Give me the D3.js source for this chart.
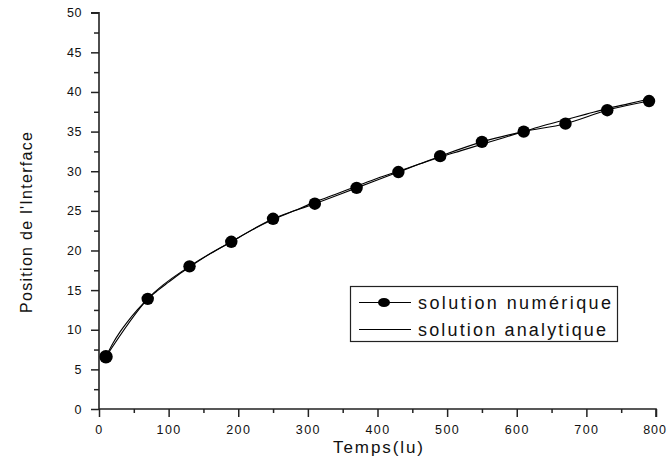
<!DOCTYPE html>
<html>
<head>
<meta charset="utf-8">
<script src="https://cdn.jsdelivr.net/npm/d3@7/dist/d3.min.js"></script>
<style>
  html, body { margin: 0; padding: 0; background: #fff; }
  svg { display: block; }
  text { font-family: "Liberation Sans", Arial, sans-serif; fill: #111; }
</style>
</head>
<body>
<svg id="chart" width="667" height="456"></svg>
<script>
// ---- data ----
const numTime = [10, 70, 130, 190, 250, 310, 370, 430, 490, 550, 610, 670, 730, 790];
const numPos  = [6.6, 13.9, 18.0, 21.1, 24.0, 25.9, 27.9, 29.9, 31.9, 33.7, 35.0, 36.0, 37.7, 38.85];

const anaTime = [10, 20, 30, 40, 55, 70, 85, 100, 115, 130, 160, 190, 220, 250, 280, 310, 340, 370, 400, 430, 460, 490, 520, 550, 580, 610, 640, 670, 700, 730, 760, 790];
const anaPos  = [6.6, 8.3, 9.7, 10.9, 12.5, 13.9, 15.0, 16.0, 17.0, 17.9, 19.6, 21.1, 22.6, 23.9, 25.0, 26.1, 27.1, 28.1, 29.1, 30.0, 30.9, 31.8, 32.6, 33.4, 34.2, 35.0, 35.8, 36.5, 37.2, 37.9, 38.5, 39.1];

const xTicks = [0, 100, 200, 300, 400, 500, 600, 700, 800];
const yTicks = [0, 5, 10, 15, 20, 25, 30, 35, 40, 45, 50];
const xMinor = [50, 150, 250, 350, 450, 550, 650, 750];
const yMinor = [2.5, 7.5, 12.5, 17.5, 22.5, 27.5, 32.5, 37.5, 42.5, 47.5];

const xLabel = "Temps(lu)";
const yLabel = "Position de l'Interface";
const legendLabels = ["solution numérique", "solution analytique"];

// ---- drawing ----
const svg = d3.select("#chart");
const x = d3.scaleLinear().domain([0, 800]).range([99, 656]);
const y = d3.scaleLinear().domain([0, 50]).range([409, 12.7]);
const axisColor = "#222";

// analytic curve
svg.append("path")
  .datum(anaTime.map((t, i) => [t, anaPos[i]]))
  .attr("d", d3.line().x(d => x(d[0])).y(d => y(d[1])).curve(d3.curveMonotoneX))
  .attr("fill", "none").attr("stroke", "#000").attr("stroke-width", 1.1);

// numerical line (smoothed) + markers
const numData = numTime.map((t, i) => [t, numPos[i]]);
svg.append("path")
  .datum(numData)
  .attr("d", d3.line().x(d => x(d[0])).y(d => y(d[1])).curve(d3.curveMonotoneX))
  .attr("fill", "none").attr("stroke", "#000").attr("stroke-width", 1.1);
svg.selectAll("circle.m").data(numData).enter().append("circle")
  .attr("class", "m")
  .attr("cx", d => x(d[0])).attr("cy", d => y(d[1]))
  .attr("r", (d, i) => i === 0 ? 6.8 : 6.2)
  .attr("fill", "#000");

// axes
const gx = svg.append("g").attr("transform", `translate(0,${y(0)})`)
  .call(d3.axisBottom(x).tickValues(xTicks).tickSize(8).tickFormat(d3.format("d")));
const gxm = svg.append("g").attr("transform", `translate(0,${y(0)})`)
  .call(d3.axisBottom(x).tickValues(xMinor).tickSize(4).tickFormat(""));
const gy = svg.append("g").attr("transform", `translate(${x(0)},0)`)
  .call(d3.axisLeft(y).tickValues(yTicks).tickSize(8).tickFormat(d3.format("d")));
const gym = svg.append("g").attr("transform", `translate(${x(0)},0)`)
  .call(d3.axisLeft(y).tickValues(yMinor).tickSize(5).tickFormat(""));

[gx, gxm, gy, gym].forEach(g => {
  g.select(".domain").attr("stroke", axisColor).attr("stroke-width", 1.6);
  g.selectAll(".tick line").attr("stroke", axisColor).attr("stroke-width", 1.5);
});
gxm.select(".domain").remove();
gym.select(".domain").remove();
gy.select(".domain").attr("d", `M0,${y(0)}V${y(50)}H-8`);
gx.select(".domain").attr("d", `M${x(0)},0H${x(800)}V8`);

gx.selectAll(".tick text")
  .attr("y", 16).attr("dy", "0.71em")
  .style("font-size", "12.5px").style("letter-spacing", "1.4px")
  .attr("fill", "#111");
// keep the last label inside the picture edge
gx.selectAll(".tick text").filter(d => d === 800)
  .attr("text-anchor", "end").attr("x", 10.5).style("letter-spacing", "1px");
gy.selectAll(".tick text")
  .attr("x", -17)
  .style("font-size", "12.5px").style("letter-spacing", "0.6px")
  .attr("fill", "#111");

// axis titles
svg.append("text").attr("x", 378).attr("y", 453)
  .attr("text-anchor", "middle")
  .attr("textLength", 90).attr("lengthAdjust", "spacing")
  .style("font-size", "17px").text(xLabel);
svg.append("text")
  .attr("transform", "translate(32,222.5) rotate(-90)")
  .attr("text-anchor", "middle")
  .attr("textLength", 181).attr("lengthAdjust", "spacing")
  .style("font-size", "16px").text(yLabel);

// legend
const lg = svg.append("g");
lg.append("rect").attr("x", 350.5).attr("y", 286.5).attr("width", 267).attr("height", 55)
  .attr("fill", "#fff").attr("stroke", "#222").attr("stroke-width", 1.2);
const rows = [302.5, 329.5];
rows.forEach((ry, i) => {
  lg.append("line").attr("x1", 359).attr("x2", 411).attr("y1", ry).attr("y2", ry)
    .attr("stroke", "#000").attr("stroke-width", 1.2);
  if (i === 0) lg.append("ellipse").attr("cx", 384).attr("cy", ry).attr("rx", 6).attr("ry", 4.6).attr("fill", "#000");
  lg.append("text").attr("x", 418).attr("y", ry + 6.5)
    .attr("textLength", i === 0 ? 193 : 188).attr("lengthAdjust", "spacing")
    .style("font-size", "18px").text(legendLabels[i]);
});
</script>
</body>
</html>
